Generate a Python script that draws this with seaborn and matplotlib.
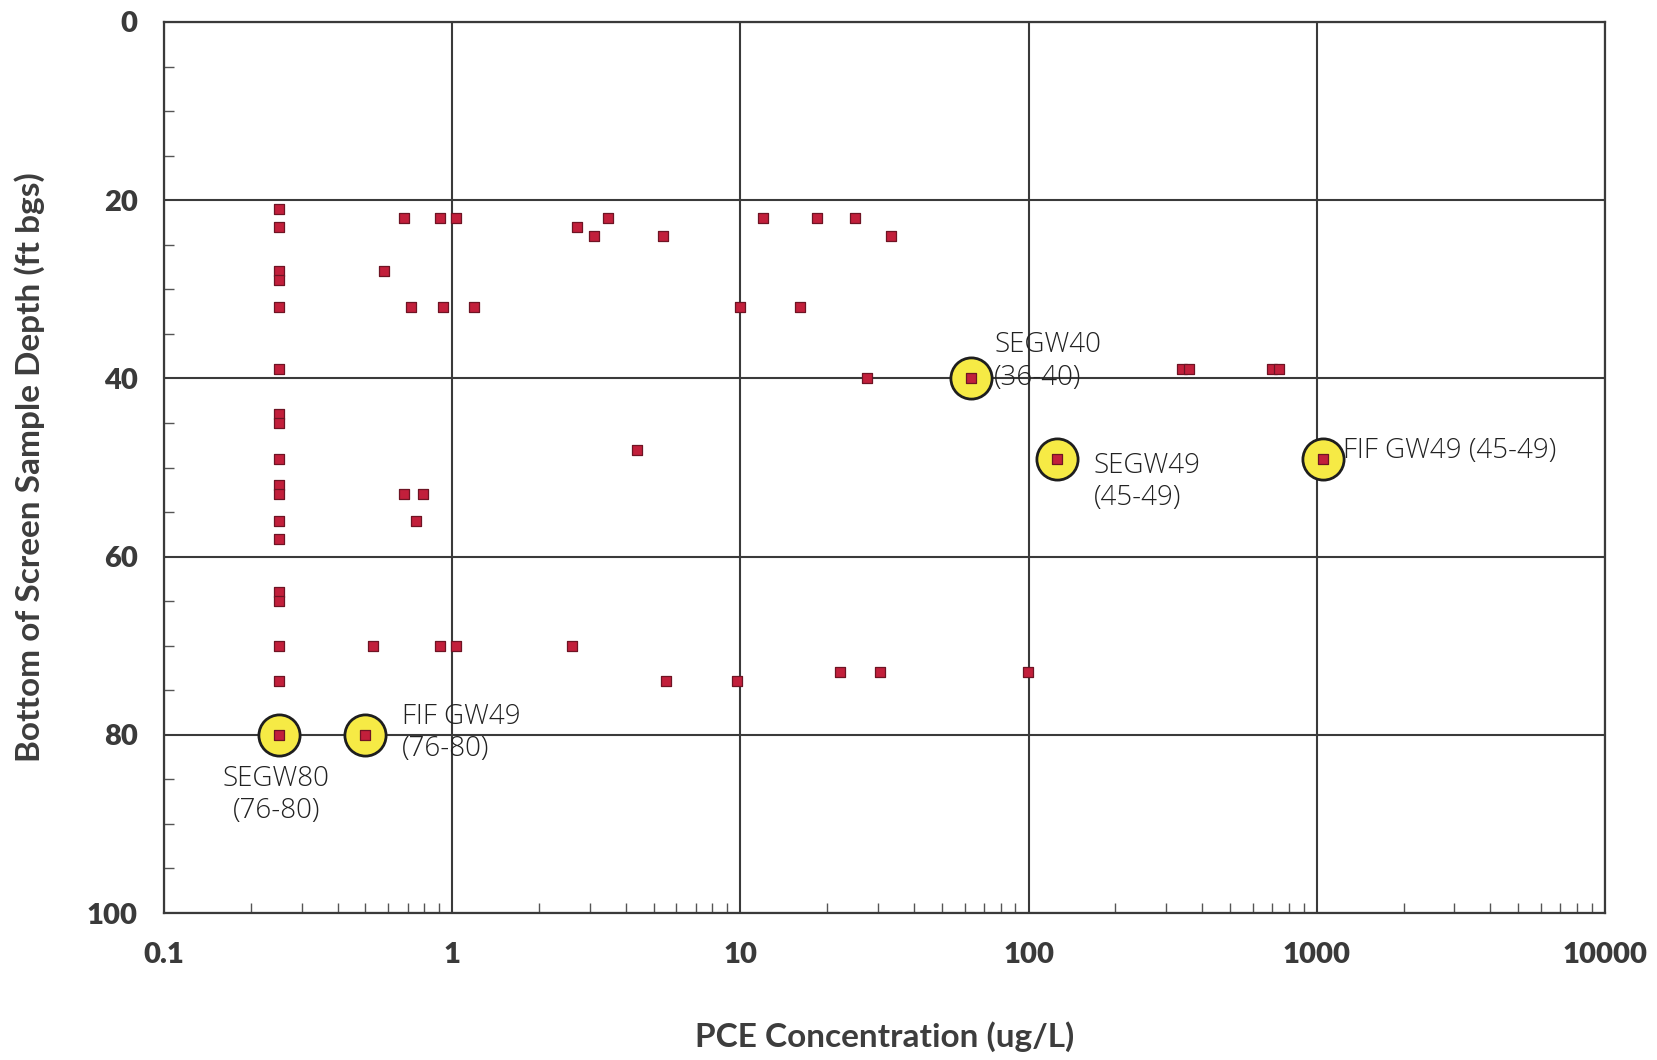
import numpy as np
import pandas as pd
import matplotlib
matplotlib.use("Agg")
import matplotlib.pyplot as plt
import matplotlib.ticker as mticker
import seaborn as sns

# PCE results (ug/L) vs bottom of screen depth (ft bgs)
conc = [0.25, 0.25, 0.25, 0.25, 0.25, 0.25, 0.25, 0.25, 0.25, 0.25,
        0.25, 0.25, 0.25, 0.25, 0.25, 0.25, 0.25,
        0.68, 0.91, 1.03, 3.47, 12.0, 18.4, 25.0,
        2.71,
        3.11, 5.37, 33.2,
        0.58,
        0.72, 0.93, 1.19, 10.0, 16.1,
        340, 360, 700, 740,
        27.4,
        4.37,
        0.68, 0.79,
        0.75,
        0.53, 0.91, 1.03, 2.6,
        22.1, 30.6, 99.5,
        5.5, 9.7]
depth = [21, 23, 28, 29, 32, 39, 44, 45, 49, 52,
         53, 56, 58, 64, 65, 70, 74,
         22, 22, 22, 22, 22, 22, 22,
         23,
         24, 24, 24,
         28,
         32, 32, 32, 32, 32,
         39, 39, 39, 39,
         40,
         48,
         53, 53,
         56,
         70, 70, 70, 70,
         73, 73, 73,
         74, 74]

# circled wells
hl_conc = [0.25, 0.5, 63, 125, 1050]
hl_depth = [80, 80, 40, 49, 49]

notes = ["SEGW80\n(76-80)", "FIF GW49\n(76-80)", "SEGW40\n(36-40)",
         "SEGW49\n(45-49)", "FIF GW49 (45-49)"]
note_x = [0.245, 0.67, 76, 168, 1230]
note_y = [86.8, 79.8, 38.1, 51.6, 48.2]
note_ha = ["center", "left", "left", "left", "left"]

xticks = [0.1, 1, 10, 100, 1000, 10000]
xtick_labels = ["0.1", "1", "10", "100", "1000", "10000"]
yticks = [0, 20, 40, 60, 80, 100]

df = pd.DataFrame({"conc": conc, "depth": depth})
hl = pd.DataFrame({"conc": hl_conc, "depth": hl_depth})

sns.set_style("white")
plt.rcParams["font.family"] = ["Lato", "DejaVu Sans"]

fig = plt.figure(figsize=(16.57, 10.60), dpi=100)
ax = fig.add_axes([164 / 1657, 1 - 913 / 1060, 1441 / 1657, 891 / 1060])

grid_c = "#3a3a3a"

# yellow highlight circles
sns.scatterplot(data=hl, x="conc", y="depth", marker="o", s=880,
                color="#F6EA45", edgecolor="#1e1e1e", linewidth=2.0,
                ax=ax, zorder=3, legend=False)
sns.scatterplot(data=df, x="conc", y="depth", marker="s", s=62,
                color="#C21F3B", edgecolor="#6e1424", linewidth=0.9,
                ax=ax, zorder=4, legend=False)
sns.scatterplot(data=hl, x="conc", y="depth", marker="s", s=62,
                color="#C21F3B", edgecolor="#6e1424", linewidth=0.9,
                ax=ax, zorder=4, legend=False)

ax.set_xscale("log")
ax.set_xlim(0.1, 10000)
ax.set_ylim(100, 0)

ax.set_xticks(xticks)
ax.set_xticklabels(xtick_labels)
ax.xaxis.set_minor_locator(mticker.LogLocator(base=10, subs=np.arange(2, 10)))
ax.xaxis.set_minor_formatter(mticker.NullFormatter())
ax.set_yticks(yticks)
ax.yaxis.set_minor_locator(mticker.MultipleLocator(5))

ax.grid(True, which="major", color=grid_c, linewidth=1.5)
ax.set_axisbelow(True)
for s in ax.spines.values():
    s.set_color(grid_c)
    s.set_linewidth(1.6)

ax.tick_params(axis="both", which="major", direction="out", length=9,
               width=1.5, color=grid_c, labelsize=21, labelcolor="#3a3a3a")
ax.tick_params(axis="both", which="minor", direction="in", length=7,
               width=1.0, color="#555555", left=True, bottom=True)
ax.tick_params(axis="x", which="major", pad=12)
ax.tick_params(axis="y", which="major", pad=10)
for lab in ax.get_xticklabels() + ax.get_yticklabels():
    lab.set_fontweight("heavy")

ax.set_xlabel("PCE Concentration (ug/L)", fontsize=24, fontweight="bold",
              color="#3d3d3d", labelpad=38)
ax.set_ylabel("Bottom of Screen Sample Depth (ft bgs)", fontsize=24,
              fontweight="bold", color="#3d3d3d", labelpad=30)

# handwritten labels
for t, x, y, ha in zip(notes, note_x, note_y, note_ha):
    ax.text(x, y, t, ha=ha, va="center", fontsize=20, color="#222222",
            family=["Open Sans", "DejaVu Sans"], fontweight="light",
            linespacing=1.2, zorder=5)

fig.savefig("out.png", dpi=100, facecolor="white")
